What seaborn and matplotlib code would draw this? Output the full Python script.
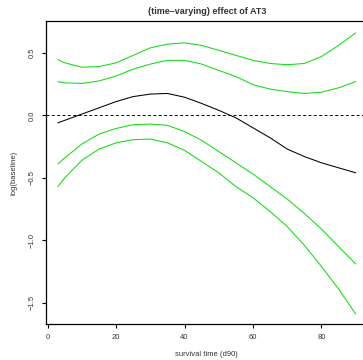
import matplotlib
matplotlib.use("Agg")
import matplotlib.pyplot as plt
import seaborn as sns
import pandas as pd

time = [3, 5, 10, 15, 20, 25, 30, 35, 40, 45, 50, 55, 60, 65, 70, 75, 80, 85, 90]
effect = [-0.06, -0.04, 0.01, 0.06, 0.11, 0.15, 0.17, 0.175, 0.145, 0.095, 0.04,
          -0.02, -0.10, -0.18, -0.27, -0.33, -0.38, -0.42, -0.46]
upper_outer = [0.445, 0.42, 0.385, 0.39, 0.42, 0.48, 0.54, 0.57, 0.58, 0.56, 0.52,
               0.48, 0.44, 0.415, 0.405, 0.415, 0.47, 0.56, 0.66]
upper_inner = [0.27, 0.26, 0.255, 0.275, 0.315, 0.37, 0.41, 0.44, 0.44, 0.41, 0.36,
               0.31, 0.245, 0.21, 0.19, 0.175, 0.185, 0.22, 0.27]
lower_inner = [-0.39, -0.34, -0.23, -0.15, -0.105, -0.075, -0.07, -0.08, -0.13, -0.20,
               -0.29, -0.38, -0.47, -0.57, -0.67, -0.785, -0.91, -1.05, -1.19]
lower_outer = [-0.57, -0.50, -0.36, -0.27, -0.22, -0.195, -0.19, -0.22, -0.28, -0.37,
               -0.46, -0.57, -0.66, -0.77, -0.89, -1.04, -1.21, -1.39, -1.59]

x_ticks = [0, 20, 40, 60, 80]
y_ticks = [-1.5, -1.0, -0.5, 0.0, 0.5]
y_tick_labels = ["\u22121.5", "\u22121.0", "\u22120.5", "0.0", "0.5"]
title = "(time\u2013varying) effect of AT3"
xlabel = "survival time (d90)"
ylabel = "log(baseline)"

series = {
    "effect": effect,
    "upper_outer": upper_outer,
    "upper_inner": upper_inner,
    "lower_inner": lower_inner,
    "lower_outer": lower_outer,
}
df = pd.concat(
    [pd.DataFrame({"time": time, "value": v, "series": k}) for k, v in series.items()],
    ignore_index=True,
)

sns.set_style("white")
plt.rcParams["font.family"] = ["Liberation Sans", "DejaVu Sans"]

fig = plt.figure(figsize=(3.63, 3.60), dpi=100)
ax = fig.add_axes([0.1267, 0.1, 0.886, 0.8417])

green = "#10DD10"
palette = {"effect": "black", "upper_outer": green, "upper_inner": green,
           "lower_inner": green, "lower_outer": green}
sns.lineplot(data=df, x="time", y="value", hue="series", palette=palette,
             units="series", estimator=None, linewidth=0.75, legend=False, ax=ax,
             sort=True)

ax.axhline(0.0, color="black", linestyle=(0, (3, 2.5)), linewidth=0.7)

ax.set_xlim(-0.48, 93.48)
ax.set_ylim(-1.67, 0.755)
ax.set_xticks(x_ticks)
ax.set_xticklabels([str(t) for t in x_ticks])
ax.set_yticks(y_ticks)
ax.set_yticklabels(y_tick_labels, rotation=90, va="center")
ax.tick_params(axis="both", direction="out", length=3, width=0.8, labelsize=5.5,
               color="black", labelcolor="#333333", bottom=True, left=True, pad=4.5)

for side in ["left", "bottom", "top", "right"]:
    ax.spines[side].set_color("black")
    ax.spines[side].set_linewidth(0.9)

ax.set_xlabel(xlabel, fontsize=5.5, color="#333333", labelpad=7)
ax.set_ylabel(ylabel, fontsize=5.5, color="#333333", labelpad=8)
ax.set_title(title, fontsize=6.5, fontweight="bold", color="#333333", pad=5)

fig.savefig("out.png", dpi=100)
